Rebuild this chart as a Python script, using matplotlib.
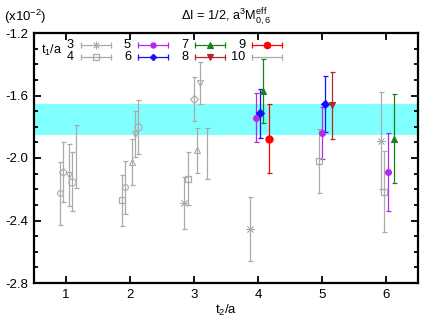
import numpy as np
import matplotlib
matplotlib.use("Agg")
import matplotlib.pyplot as plt
from matplotlib.ticker import MultipleLocator

plt.rcParams['font.family'] = ['Liberation Sans', 'DejaVu Sans']
plt.rcParams['mathtext.fontset'] = 'custom'
plt.rcParams['mathtext.rm'] = 'Liberation Sans'
plt.rcParams['mathtext.it'] = 'Liberation Sans'
plt.rcParams['mathtext.bf'] = 'Liberation Sans:bold'
plt.rcParams['axes.unicode_minus'] = False

# ---- data (units of 1e-2) ----
t1_list = [3, 4, 5, 6, 7, 8, 9, 10]

t2_t1_3 = [3, 4, 6]
y_t1_3 = [-2.290, -2.456, -1.889]
e_t1_3 = [0.166, 0.206, 0.312]

t2_t1_4 = [2, 3, 5, 6]
y_t1_4 = [-2.271, -2.132, -2.021, -2.216]
e_t1_4 = [0.163, 0.168, 0.205, 0.258]

t2_t1_5 = [1, 2, 4, 5, 6]
y_t1_5 = [-2.226, -2.188, -1.742, -1.842, -2.090]
e_t1_5 = [0.200, 0.168, 0.157, 0.166, 0.250]

t2_t1_6 = [1, 3, 4, 5]
y_t1_6 = [-2.092, -1.624, -1.714, -1.654]
e_t1_6 = [0.192, 0.142, 0.157, 0.177]

t2_t1_7 = [2, 3, 4, 6]
y_t1_7 = [-2.024, -1.949, -1.571, -1.878]
e_t1_7 = [0.146, 0.144, 0.205, 0.285]

t2_t1_8 = [1, 2, 3, 5]
y_t1_8 = [-2.109, -1.846, -1.522, -1.663]
e_t1_8 = [0.198, 0.145, 0.134, 0.214]

t2_t1_9 = [1, 2, 4]
y_t1_9 = [-2.152, -1.804, -1.876]
e_t1_9 = [0.190, 0.173, 0.220]

t2_t1_10 = [1, 3]
y_t1_10 = [-1.992, -1.973]
e_t1_10 = [0.203, 0.163]

band_lo, band_hi = -1.855, -1.655
fit_t2_min = 4
fit_t1 = [5, 6, 7, 8, 9]

series = {
    3: (t2_t1_3, y_t1_3, e_t1_3),
    4: (t2_t1_4, y_t1_4, e_t1_4),
    5: (t2_t1_5, y_t1_5, e_t1_5),
    6: (t2_t1_6, y_t1_6, e_t1_6),
    7: (t2_t1_7, y_t1_7, e_t1_7),
    8: (t2_t1_8, y_t1_8, e_t1_8),
    9: (t2_t1_9, y_t1_9, e_t1_9),
    10: (t2_t1_10, y_t1_10, e_t1_10),
}

GRAY = '#aaaaaa'
colors = {3: GRAY, 4: GRAY, 5: '#b428f0', 6: '#1010ff', 7: '#1a801a',
          8: '#b22828', 9: '#ff0000', 10: GRAY}
markers = {3: (8, 2, 0), 4: 's', 5: 'o', 6: 'D', 7: '^', 8: 'v', 9: 'o', 10: None}
msizes = {3: 6, 4: 4.2, 5: 4.2, 6: 3.6, 7: 4.6, 8: 4.6, 9: 5.2, 10: 0}
mews = {3: 0.6, 4: 0.9, 5: 0.8, 6: 0.8, 7: 0.8, 8: 0.8, 9: 0.8, 10: 0.8}

fig = plt.figure(figsize=(4.36, 3.27), dpi=100)
ax = fig.add_axes([34 / 436, 44 / 327, 384 / 436, 250 / 327])

ax.axhspan(band_lo, band_hi, color='#80ffff', lw=0, zorder=0)

for t1 in t1_list:
    t2s, ys, es = series[t1]
    for t2, y, e in zip(t2s, ys, es):
        x = t2 + 0.05 * (t1 - 7.5 + t2 / 2)
        colored = (t2 >= fit_t2_min) and (t1 in fit_t1)
        c = colors[t1] if colored else GRAY
        m = markers[t1]
        ax.errorbar([x], [y], yerr=[e], fmt='none', ecolor=c, elinewidth=0.9,
                    capsize=1.8, capthick=0.9, zorder=2)
        if m is not None:
            if colored:
                ax.plot([x], [y], ls='none', marker=m, ms=msizes[t1], mfc=c,
                        mec=c, mew=mews[t1], zorder=3)
            else:
                ax.plot([x], [y], ls='none', marker=m, ms=msizes[t1], mfc='none',
                        mec=GRAY, mew=mews[t1], zorder=3)

ax.set_xlim(0.5, 6.5)
ax.set_ylim(-2.8, -1.2)
ax.set_xticks([1, 2, 3, 4, 5, 6])
ax.set_yticks([-2.8, -2.4, -2.0, -1.6, -1.2])
ax.yaxis.set_minor_locator(MultipleLocator(0.1))
ax.yaxis.set_major_formatter(matplotlib.ticker.FormatStrFormatter('%.1f'))
ax.tick_params(which='both', direction='in', top=True, right=True,
               labelsize=9.5, width=1.3, colors='black')
ax.tick_params(which='major', length=5, pad=4)
ax.tick_params(which='minor', length=3)
for s in ax.spines.values():
    s.set_linewidth(1.6)
ax.set_xlabel('t$_2$/a', fontsize=9.5, labelpad=2)

# legend (gnuplot-style key)
tr = ax.transAxes
for i, t1 in enumerate(t1_list):
    col, row = i // 2, i % 2
    x0 = (47 + 57 * col) / 384
    x1 = x0 + 30 / 384
    yk = 1 - (12.3 + 11.5 * row) / 250
    c = colors[t1]
    ax.plot([x0, x1], [yk, yk], color=c, lw=0.9, transform=tr, clip_on=False, zorder=4)
    ax.plot([x0, x1], [yk, yk], ls='none', marker='|', ms=4, mew=0.9, color=c,
            transform=tr, clip_on=False, zorder=4)
    m = markers[t1]
    if m is not None:
        filled = t1 in fit_t1
        ax.plot([(x0 + x1) / 2], [yk], ls='none', marker=m, ms=msizes[t1] * 0.9,
                mfc=c if filled else 'none', mec=c, mew=mews[t1], transform=tr,
                clip_on=False, zorder=5)
    ax.text(x0 - 7 / 384, yk, str(t1), ha='right', va='center', fontsize=9.2,
            transform=tr)
ax.text(7 / 384, 1 - 17 / 250, 't$_1$/a', ha='left', va='center', fontsize=9,
        transform=tr)

fig.text(4 / 436, 1 - 17 / 327, '(x10$^{-2}$)', ha='left', va='center', fontsize=9.5)
fig.text(226 / 436, 1 - 17 / 327, r'$\Delta$I = 1/2, a$^3$M$^{\rm eff}_{0,6}$',
         ha='center', va='center', fontsize=9.2)

fig.savefig('out.png', dpi=100)
